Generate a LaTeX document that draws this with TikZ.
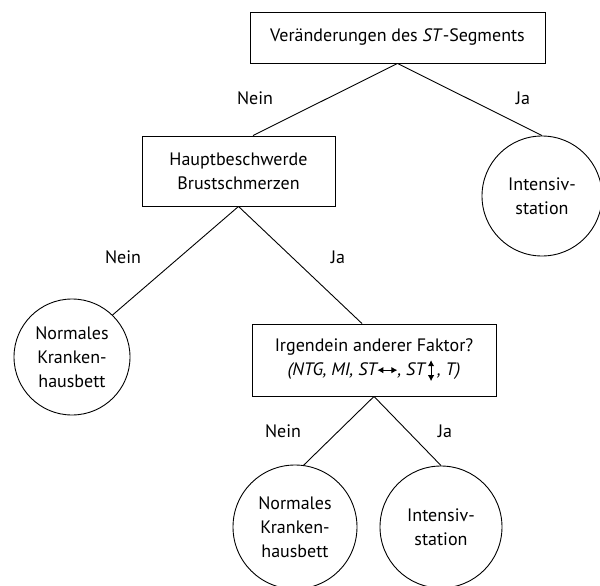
\documentclass[tikz,border=0pt]{standalone}
\usepackage{fontspec}
\setmainfont{PT Sans}
\usetikzlibrary{arrows.meta}
\newcommand{\lrpfeil}{\tikz[baseline=0pt]\draw[line width=1pt,{Latex[length=6pt,width=6.5pt]}-{Latex[length=6pt,width=6.5pt]}] (0pt,5pt) -- (20pt,5pt);}
\newcommand{\udpfeil}{\tikz[baseline=0pt]\draw[line width=1pt,{Latex[length=6pt,width=6.5pt]}-{Latex[length=6pt,width=6.5pt]}] (0pt,-6pt) -- (0pt,15pt);}
\begin{document}
\begin{tikzpicture}[x=1pt,y=-1pt,
    kasten/.style={draw,line width=0.9pt,align=center,inner sep=0pt,font=\fontsize{18}{24}\selectfont},
    kreis/.style={draw,circle,line width=0.9pt,align=center,inner sep=0pt,font=\fontsize{18}{24}\selectfont},
    antwort/.style={inner sep=0pt,font=\fontsize{18}{24}\selectfont},
    ast/.style={line width=0.9pt}]
  \useasboundingbox (0,0) rectangle (600,586);
  \node[kasten,minimum width=295pt,minimum height=51pt] (st) at (397.5,37.5) {Veränderungen des \textit{ST}-Segments};
  \node[kasten,minimum width=193pt,minimum height=70pt] (haupt) at (238.5,171) {Hauptbeschwerde\\Brustschmerzen};
  \node[kreis,minimum size=120pt] (int1) at (542,196) {Intensiv-\\station};
  \node[kreis,minimum size=116pt] (normal1) at (72,357) {Normales\\Kranken-\\hausbett};
  \node[kasten,minimum width=244pt,minimum height=72pt] (faktor) at (374,360) {Irgendein anderer Faktor?\\\textit{(NTG, MI, ST\lrpfeil, ST\,\udpfeil\,, T)}};
  \node[kreis,minimum size=124pt] (normal2) at (295,527) {Normales\\Kranken-\\hausbett};
  \node[kreis,minimum size=122pt] (int2) at (441,527) {Intensiv-\\station};

  \draw[ast] (st.south) -- ([xshift=14.5pt]haupt.north);
  \draw[ast] (st.south) -- (int1.north);
  \draw[ast] (haupt.south) -- (normal1.46);
  \draw[ast] (haupt.south) -- ([xshift=-12pt]faktor.north);
  \draw[ast] (faktor.south) -- (normal2.82);
  \draw[ast] (faktor.south) -- (int2.north);

  \node[antwort] (nein1) at (255,98) {Nein};
  \node[antwort] (ja1) at (523,98) {Ja};
  \node[antwort] (nein2) at (123,257) {Nein};
  \node[antwort] (ja2) at (338,257) {Ja};
  \node[antwort] (nein3) at (283,431) {Nein};
  \node[antwort] (ja3) at (445,431) {Ja};
\end{tikzpicture}
\end{document}
